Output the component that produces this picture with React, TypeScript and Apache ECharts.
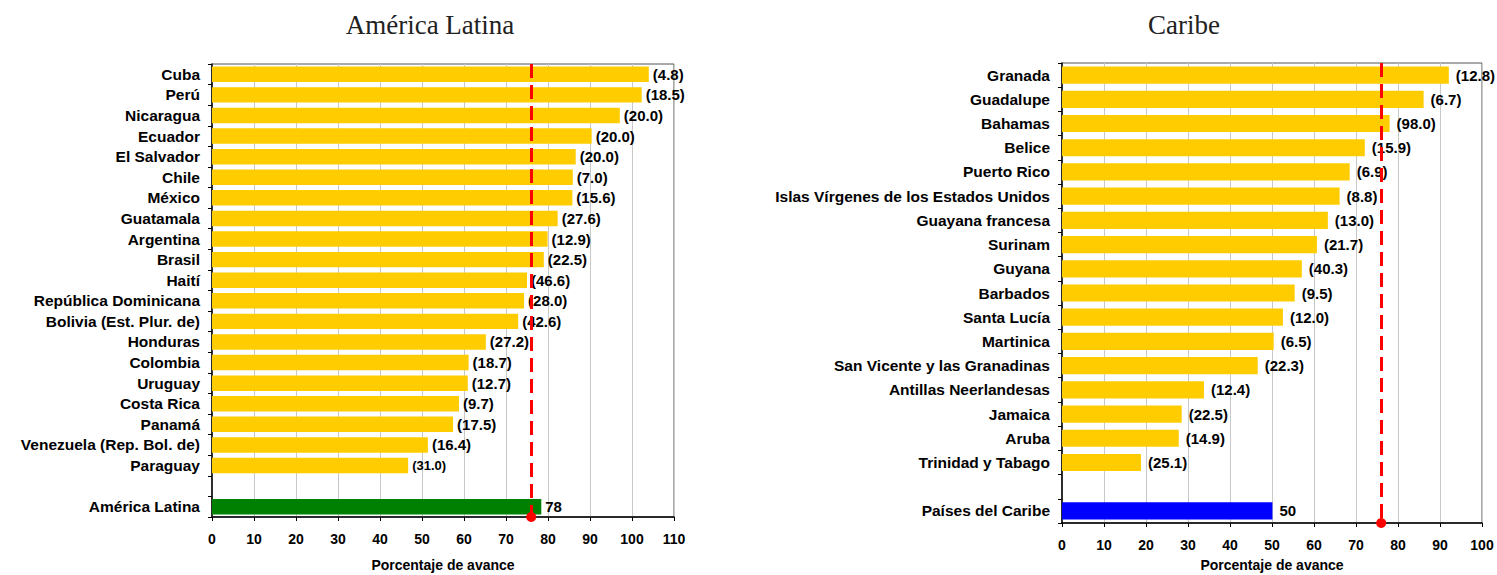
import React, { useEffect, useRef } from 'react';
import * as echarts from 'echarts';

const latamCountries = ['Cuba', 'Perú', 'Nicaragua', 'Ecuador', 'El Salvador', 'Chile', 'México', 'Guatamala', 'Argentina', 'Brasil', 'Haití', 'República Dominicana', 'Bolivia (Est. Plur. de)', 'Honduras', 'Colombia', 'Uruguay', 'Costa Rica', 'Panamá', 'Venezuela (Rep. Bol. de)', 'Paraguay'];
const latamValues = [104.0, 102.3, 97.1, 90.4, 86.6, 85.9, 85.8, 82.3, 79.9, 79.0, 75.0, 74.3, 72.9, 65.2, 61.1, 60.9, 58.8, 57.4, 51.4, 46.7];
const latamLabels = [4.8, 18.5, 20.0, 20.0, 20.0, 7.0, 15.6, 27.6, 12.9, 22.5, 46.6, 28.0, 42.6, 27.2, 18.7, 12.7, 9.7, 17.5, 16.4, 31.0];
const latamTotalName = 'América Latina';
const latamTotal = 78.4;

const caribCountries = ['Granada', 'Guadalupe', 'Bahamas', 'Belice', 'Puerto Rico', 'Islas Vírgenes de los Estados Unidos', 'Guayana francesa', 'Surinam', 'Guyana', 'Barbados', 'Santa Lucía', 'Martinica', 'San Vicente y las Granadinas', 'Antillas Neerlandesas', 'Jamaica', 'Aruba', 'Trinidad y Tabago'];
const caribValues = [92.1, 86.1, 78.0, 72.1, 68.5, 66.1, 63.3, 60.7, 57.1, 55.4, 52.6, 50.4, 46.6, 33.8, 28.5, 27.8, 18.8];
const caribLabels = [12.8, 6.7, 98.0, 15.9, 6.9, 8.8, 13.0, 21.7, 40.3, 9.5, 12.0, 6.5, 22.3, 12.4, 22.5, 14.9, 25.1];
const caribTotalName = 'Países del Caribe';
const caribTotal = 50.1;

const targetLine = 76;
const latamAxisMax = 110;
const caribAxisMax = 100;
const axisInterval = 10;

const titles = ['América Latina', 'Caribe'];
const axisName = 'Porcentaje de avance';

const FONT = 'Arial, "Liberation Sans", sans-serif';

function buildData(values: number[], labels: number[], total: number, totalColor: string, smallLast: boolean) {
  const data: any[] = values.map((v, i) => ({
    value: v,
    itemStyle: { color: '#FFCC00' },
    label: {
      formatter: '(' + labels[i].toFixed(1) + ')',
      fontSize: smallLast && i === values.length - 1 ? 13 : 15,
    },
  }));
  data.push({ value: '-' });
  data.push({
    value: total,
    itemStyle: { color: totalColor },
    label: { formatter: String(Math.round(total)), fontSize: 15 },
  });
  return data;
}

function xAxisCfg(gridIndex: number, max: number, nameGap: number) {
  return {
    type: 'value',
    gridIndex,
    min: 0,
    max,
    interval: axisInterval,
    axisLine: { show: true, lineStyle: { color: '#000', width: 1.5 } },
    axisTick: { show: true, length: 4, lineStyle: { color: '#000' } },
    axisLabel: { color: '#000', fontWeight: 'bold', fontSize: 14, fontFamily: FONT, margin: 15 },
    splitLine: { show: true, lineStyle: { color: '#C8C8C8', width: 1 } },
    name: axisName,
    nameLocation: 'middle',
    nameGap,
    nameTextStyle: { color: '#000', fontWeight: 'bold', fontSize: 14, fontFamily: FONT },
  };
}

function yAxisCfg(gridIndex: number, cats: string[]) {
  return {
    type: 'category',
    gridIndex,
    data: cats,
    inverse: true,
    axisLine: { show: true, lineStyle: { color: '#000', width: 1.5 } },
    axisTick: { show: true, length: 4, interval: 0, lineStyle: { color: '#000' } },
    axisLabel: { color: '#000', fontWeight: 'bold', fontSize: 15.5, fontFamily: FONT, margin: 12, interval: 0 },
    splitLine: { show: false },
  };
}

function markLineCfg() {
  return {
    silent: true,
    symbol: ['none', 'circle'],
    symbolSize: 10,
    label: { show: false },
    lineStyle: { color: '#FF0000', width: 3, type: [14, 7] },
    data: [{ xAxis: targetLine }],
  };
}

export default function App() {
  const ref = useRef<HTMLDivElement>(null);
  useEffect(() => {
    document.body.style.margin = '0';
    document.documentElement.style.overflow = 'hidden';
    document.body.style.overflow = 'hidden';
    if (!ref.current) return;
    const chart = echarts.init(ref.current, null, { renderer: 'svg' });
    chart.setOption({
      animation: false,
      backgroundColor: '#fff',
      graphic: [
        { type: 'text', x: 430, y: 25, style: { text: titles[0], fontFamily: '"Liberation Serif", "DejaVu Serif", serif', fontSize: 27, fill: '#222', textAlign: 'center', textVerticalAlign: 'middle' } },
        { type: 'text', x: 1184, y: 25, style: { text: titles[1], fontFamily: '"Liberation Serif", "DejaVu Serif", serif', fontSize: 27, fill: '#222', textAlign: 'center', textVerticalAlign: 'middle' } },
      ],
      grid: [
        { left: 212, top: 64, width: 462, height: 453, show: true, borderColor: '#555', borderWidth: 1, backgroundColor: 'transparent', containLabel: false, outerBoundsMode: 'none' },
        { left: 1062, top: 63, width: 420, height: 460, show: true, borderColor: '#555', borderWidth: 1, backgroundColor: 'transparent', containLabel: false, outerBoundsMode: 'none' },
      ],
      xAxis: [xAxisCfg(0, latamAxisMax, 41), xAxisCfg(1, caribAxisMax, 35)],
      yAxis: [
        yAxisCfg(0, [...latamCountries, '', latamTotalName]),
        yAxisCfg(1, [...caribCountries, '', caribTotalName]),
      ],
      series: [
        {
          type: 'bar',
          xAxisIndex: 0,
          yAxisIndex: 0,
          barCategoryGap: '25%',
          data: buildData(latamValues, latamLabels, latamTotal, '#008000', true),
          label: { show: true, position: 'right', distance: 4, color: '#000', fontWeight: 'bold', fontFamily: FONT },
          markLine: markLineCfg(),
        },
        {
          type: 'bar',
          xAxisIndex: 1,
          yAxisIndex: 1,
          barCategoryGap: '29%',
          data: buildData(caribValues, caribLabels, caribTotal, '#0000FF', false),
          label: { show: true, position: 'right', distance: 7, color: '#000', fontWeight: 'bold', fontFamily: FONT },
          markLine: markLineCfg(),
        },
      ],
    });
    return () => chart.dispose();
  }, []);
  return <div ref={ref} style={{ position: 'fixed', left: 0, top: 0, width: 1497, height: 575, overflow: 'hidden' }} />;
}
